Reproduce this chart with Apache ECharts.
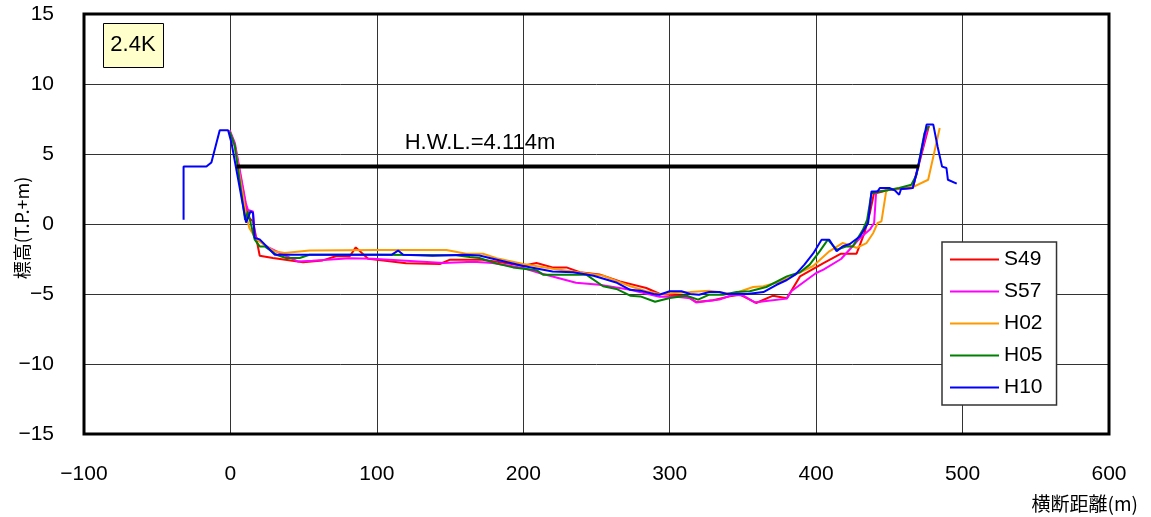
<!DOCTYPE html>
<html>
<head>
<meta charset="utf-8">
<script src="https://cdn.jsdelivr.net/npm/echarts@6/dist/echarts.min.js"></script>
<style>html,body{margin:0;padding:0;background:#fff;}#c{width:1151px;height:517px;}</style>
</head>
<body>
<div id="c"></div>
<script>
// ---- data ----
const sectionName = '2.4K';
const xTicks = { min: -100, max: 600, interval: 100 };
const yTicks = { min: -15, max: 15, interval: 5 };
const hwlLevel = 4.114;
const hwlRange = [4.1, 470.4];
const seriesNames = ['S49', 'S57', 'H02', 'H05', 'H10'];
const seriesColors = ['#ff0000', '#ff00ff', '#ff9900', '#008000', '#0000ff'];

const S49 = [[-0.5,6.6],[3,5.6],[12,0.5],[15.4,0.2],[20,-2.27],[29,-2.43],[49.6,-2.74],[63,-2.6],[72,-2.3],[81.5,-2.3],[85.6,-1.67],[94,-2.48],[100,-2.55],[120,-2.8],[143,-2.86],[150,-2.55],[172,-2.55],[182,-2.7],[200,-2.98],[209,-2.79],[220,-3.1],[229.5,-3.1],[238.6,-3.45],[252,-3.6],[266,-4.1],[284,-4.57],[293,-4.98],[311.5,-5.17],[318,-5.57],[329.6,-5.45],[341,-5.17],[348,-5.05],[359,-5.64],[370.6,-5.12],[380,-5.3],[389,-3.74],[405,-2.79],[417,-2.12],[427.6,-2.12],[433,-0.64],[436.7,0.79],[439.4,2.16],[450,2.45],[466,2.57],[477,7.0]];

const S57 = [[-0.5,6.7],[3,5.8],[10.5,1.5],[12,1.0],[15.4,0.9],[16.6,-0.88],[24.6,-1.6],[33.7,-2.07],[46,-2.67],[56,-2.62],[81.5,-2.45],[97,-2.48],[120,-2.62],[145.6,-2.79],[165.7,-2.7],[179,-2.79],[200,-3.14],[211,-3.5],[236,-4.2],[252,-4.34],[273,-4.7],[293,-5.2],[304.6,-5.2],[314,-5.3],[318,-5.6],[334,-5.4],[343,-5.05],[350,-5.1],[358,-5.6],[366,-5.5],[380,-5.33],[383,-4.8],[400,-3.5],[405,-3.26],[417,-2.5],[430,-1.0],[436.7,-0.4],[439.6,0.07],[441,2.33],[466,2.6],[476.5,7.0]];

const H02 = [[-0.5,6.6],[3,5.5],[11,0.5],[13,-0.3],[17.7,-1.1],[30,-1.95],[37,-2.07],[54,-1.9],[100,-1.85],[147.5,-1.85],[161,-2.12],[172.5,-2.12],[181.7,-2.45],[200,-2.86],[220,-3.2],[241,-3.5],[254.5,-3.7],[273,-4.45],[284,-4.8],[293,-5.0],[314,-4.86],[327,-4.76],[343,-5.0],[357,-4.5],[364,-4.45],[373,-4.2],[384,-3.7],[398,-3.0],[409,-1.95],[418,-1.36],[427.6,-1.7],[434.4,-1.36],[439,-0.64],[442,0.07],[444.6,0.19],[448,2.45],[466,2.64],[476.5,3.16],[484.4,6.86]];

const H05 = [[-0.5,6.6],[3,5.6],[10,0.3],[12,0.9],[14,0.0],[16.6,-1.12],[20,-1.6],[23.4,-1.6],[31.4,-2.2],[38,-2.43],[47.3,-2.43],[54,-2.2],[100,-2.2],[154,-2.24],[163.5,-2.36],[170,-2.43],[182,-2.83],[193,-3.1],[209,-3.3],[213.5,-3.62],[243,-3.62],[254.5,-4.45],[263.6,-4.64],[273,-5.12],[280,-5.17],[290,-5.55],[300,-5.29],[311.5,-5.12],[319.4,-5.4],[327,-5.05],[336.5,-5.05],[345.6,-4.86],[354.7,-4.8],[366,-4.5],[380,-3.74],[389,-3.45],[395.6,-2.9],[402.4,-1.95],[408,-1.12],[409,-1.0],[414,-1.84],[420.8,-1.6],[425,-1.6],[432,-0.4],[434.8,0.3],[437.8,2.2],[456.7,2.57],[465,2.8],[468.5,3.5],[474,6.5],[477,7.0]];

const H10 = [[-32,0.3],[-32,4.1],[-16.4,4.1],[-13,4.4],[-7.3,6.7],[-1.6,6.7],[0.7,5.8],[10.7,0.1],[13.7,0.9],[15.4,0.8],[16.6,-1.0],[20,-1.1],[30.3,-2.2],[60,-2.2],[100,-2.2],[110,-2.2],[114.5,-1.9],[118,-2.2],[138,-2.27],[160,-2.2],[170,-2.25],[182,-2.55],[200,-3.0],[220,-3.4],[234,-3.45],[248,-3.7],[264,-4.2],[273,-4.7],[280,-4.76],[289,-5.0],[293,-5.05],[300,-4.8],[308,-4.8],[314,-5.0],[320,-5.05],[327,-4.86],[334,-4.86],[339,-5.0],[353,-5.0],[364,-4.86],[373,-4.34],[380,-4.0],[386,-3.6],[392,-2.9],[398,-2.1],[403.7,-1.12],[409,-1.12],[414,-1.95],[418,-1.6],[423,-1.43],[430,-0.88],[435.5,0.07],[437.8,2.33],[442,2.33],[443.5,2.57],[450,2.57],[453.7,2.4],[456.7,2.09],[458,2.5],[466,2.57],[469.7,4.1],[475.4,7.1],[480,7.1],[483,5.5],[486,4.1],[489,4.0],[490,3.16],[496,2.88]];

const seriesData = [S49, S57, H02, H05, H10];

// ---- chart ----
const chart = echarts.init(document.getElementById('c'), null, { renderer: 'canvas' });
const numFont = "'Liberation Sans', Arial, sans-serif";
const fmt = v => String(v).replace('-', '\u2212');

const series = seriesNames.map((n, i) => ({
  name: n, type: 'line', data: seriesData[i], showSymbol: false, symbol: 'none',
  lineStyle: { color: seriesColors[i], width: 2 }, itemStyle: { color: seriesColors[i] },
  animation: false, z: 3 + i
}));
series.push({
  name: 'HWL', type: 'line', data: [[hwlRange[0], hwlLevel], [hwlRange[1], hwlLevel]],
  showSymbol: false, symbol: 'none', lineStyle: { color: '#000', width: 4 }, animation: false, z: 10
});

chart.setOption({
  animation: false,
  backgroundColor: '#fff',
  grid: { left: 84, top: 14, right: 42, bottom: 83, containLabel: false, outerBoundsMode: 'none', show: true, borderColor: '#000', borderWidth: 3, backgroundColor: 'transparent', z: 20 },
  xAxis: {
    type: 'value', min: xTicks.min, max: xTicks.max, interval: xTicks.interval,
    axisLine: { show: false }, axisTick: { show: false },
    axisLabel: { margin: 30, color: '#000', fontSize: 21, fontFamily: numFont, formatter: fmt },
    splitLine: { show: true, lineStyle: { color: '#333', width: 1 } }
  },
  yAxis: {
    type: 'value', min: yTicks.min, max: yTicks.max, interval: yTicks.interval,
    axisLine: { show: false }, axisTick: { show: false },
    axisLabel: { margin: 30, color: '#000', fontSize: 21, fontFamily: numFont, formatter: fmt },
    splitLine: { show: true, lineStyle: { color: '#333', width: 1 } }
  },
  legend: {
    data: seriesNames, orient: 'vertical', left: 942, top: 242,
    icon: 'rect', itemWidth: 49, itemHeight: 2, itemGap: 11,
    padding: [7, 14, 7, 8],
    backgroundColor: '#fff', borderColor: '#333', borderWidth: 1.5,
    textStyle: { fontSize: 21, fontFamily: numFont, color: '#000', width: 50 },
    selectedMode: false, z: 30
  },
  graphic: [
    { type: 'rect', left: 103, top: 23, shape: { width: 60, height: 44 }, style: { fill: '#ffffcc', stroke: '#000', lineWidth: 1 }, z: 30 },
    { type: 'text', x: 133, y: 45, style: { text: sectionName, fill: '#000', font: "22px 'Liberation Sans', Arial, sans-serif", textAlign: 'center', textVerticalAlign: 'middle' }, z: 31 },
    { type: 'text', x: 480, y: 143, style: { text: 'H.W.L.=' + hwlLevel + 'm', fill: '#000', font: "22px 'Liberation Sans', Arial, sans-serif", textAlign: 'center', textVerticalAlign: 'middle' }, z: 31 },
    { type: 'text', x: 1138, y: 504, style: { text: '横断距離(m)', fill: '#000', font: "19px 'Noto Sans CJK JP', sans-serif", textAlign: 'right', textVerticalAlign: 'middle' }, z: 31 },
    { type: 'text', x: 22, y: 228, rotation: Math.PI / 2, style: { text: '標高(T.P.+m)', fill: '#000', font: "18px 'Noto Sans CJK JP', sans-serif", textAlign: 'center', textVerticalAlign: 'middle' }, z: 31 }
  ],
  series: series
});
</script>
</body>
</html>
